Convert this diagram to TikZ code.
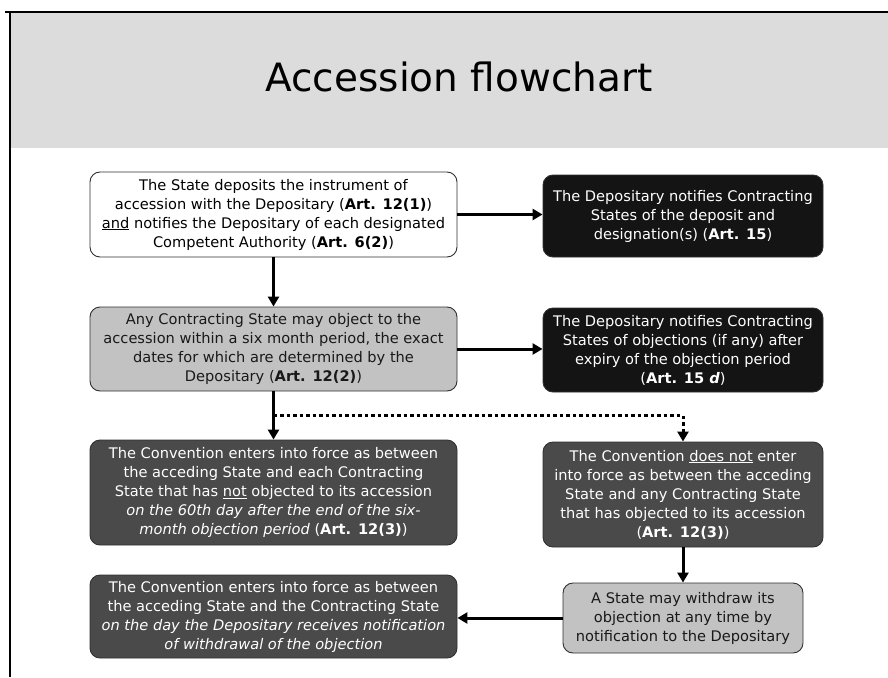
\documentclass[tikz,border=0pt]{standalone}
\usepackage{fontspec}
\setmainfont{DejaVu Sans}
\usetikzlibrary{arrows.meta,calc}

\definecolor{bandgray}{HTML}{DCDCDC}
\definecolor{lightbox}{HTML}{C2C2C2}
\definecolor{darkbox}{HTML}{4A4A4A}
\definecolor{blackbox}{HTML}{141414}
\definecolor{framegray}{HTML}{303030}

\tikzset{
  basebox/.style={rounded corners=10pt, line width=0.9pt, draw=framegray,
    align=center, inner sep=0pt,
    font=\fontsize{14.6pt}{19pt}\selectfont},
  whitebox/.style={basebox, fill=white, text=black},
  palebox/.style={basebox, fill=lightbox, text=black!90},
  greybox/.style={basebox, fill=darkbox, text=white},
  inkbox/.style={basebox, fill=blackbox, text=white},
  flow/.style={line width=3pt, -{Triangle[length=10pt,width=11pt]}},
  dotflow/.style={flow, dash pattern=on 3.5pt off 3pt},
}

\begin{document}
\begin{tikzpicture}[x=1pt,y=-1pt]
\useasboundingbox (0,0) rectangle (888,677);

% slide title band and frame
\fill[bandgray] (10,12) rectangle (888,148);
\draw[line width=2pt, black] (5,12) -- (888,12);
\draw[line width=2pt, black] (10,12) -- (10,677);
\node[font=\fontsize{39pt}{44pt}\selectfont, anchor=base] (title) at (459,91) {Accession flowchart};

% boxes
\node[whitebox, minimum width=367pt, minimum height=85pt] (A) at (273.5,214.5)
  {The State deposits the instrument of\\
   accession with the Depositary (\textbf{Art. 12(1)})\\
   \underline{and} notifies the Depositary of each designated\\
   Competent Authority (\textbf{Art. 6(2)})};

\node[inkbox, minimum width=280pt, minimum height=82pt] (B) at (683,216)
  {The Depositary notifies Contracting\\
   States of the deposit and\\
   designation(s) (\textbf{Art. 15})};

\node[palebox, minimum width=367pt, minimum height=84pt] (C) at (273.5,349)
  {Any Contracting State may object to the\\
   accession within a six month period, the exact\\
   dates for which are determined by the\\
   Depositary (\textbf{Art. 12(2)})};

\node[inkbox, minimum width=280pt, minimum height=84pt] (D) at (683,350)
  {The Depositary notifies Contracting\\
   States of objections (if any) after\\
   expiry of the objection period\\
   (\textbf{Art. 15 \textit{d}})};

\node[greybox, minimum width=367pt, minimum height=105pt] (E) at (273.5,492.5)
  {The Convention enters into force as between\\
   the acceding State and each Contracting\\
   State that has \underline{not} objected to its accession\\
   \textit{on the 60th day after the end of the six-}\\
   \textit{month objection period} (\textbf{Art. 12(3)})};

\node[greybox, minimum width=280pt, minimum height=105pt] (F) at (683,494.5)
  {The Convention \underline{does not} enter\\
   into force as between the acceding\\
   State and any Contracting State\\
   that has objected to its accession\\
   (\textbf{Art. 12(3)})};

\node[palebox, minimum width=240pt, minimum height=70pt] (G) at (683,618)
  {A State may withdraw its\\
   objection at any time by\\
   notification to the Depositary};

\node[greybox, minimum width=367pt, minimum height=83pt] (H) at (273.5,616.5)
  {The Convention enters into force as between\\
   the acceding State and the Contracting State\\
   \textit{on the day the Depositary receives notification}\\
   \textit{of withdrawal of the objection}};

% connectors
\draw[flow] (A.east) -- (A.east -| B.west);
\draw[flow] (A.south) -- (C.north);
\draw[flow] (C.east) -- (C.east -| D.west);
\draw[flow] (C.south) -- (E.north);
\coordinate (split) at ($(C.south)!0.5!(E.north)$);
\draw[dotflow] (split) -| (F.north);
\draw[flow] (F.south) -- (G.north);
\draw[flow] (G.west) -- (G.west -| H.east);
\end{tikzpicture}
\end{document}
